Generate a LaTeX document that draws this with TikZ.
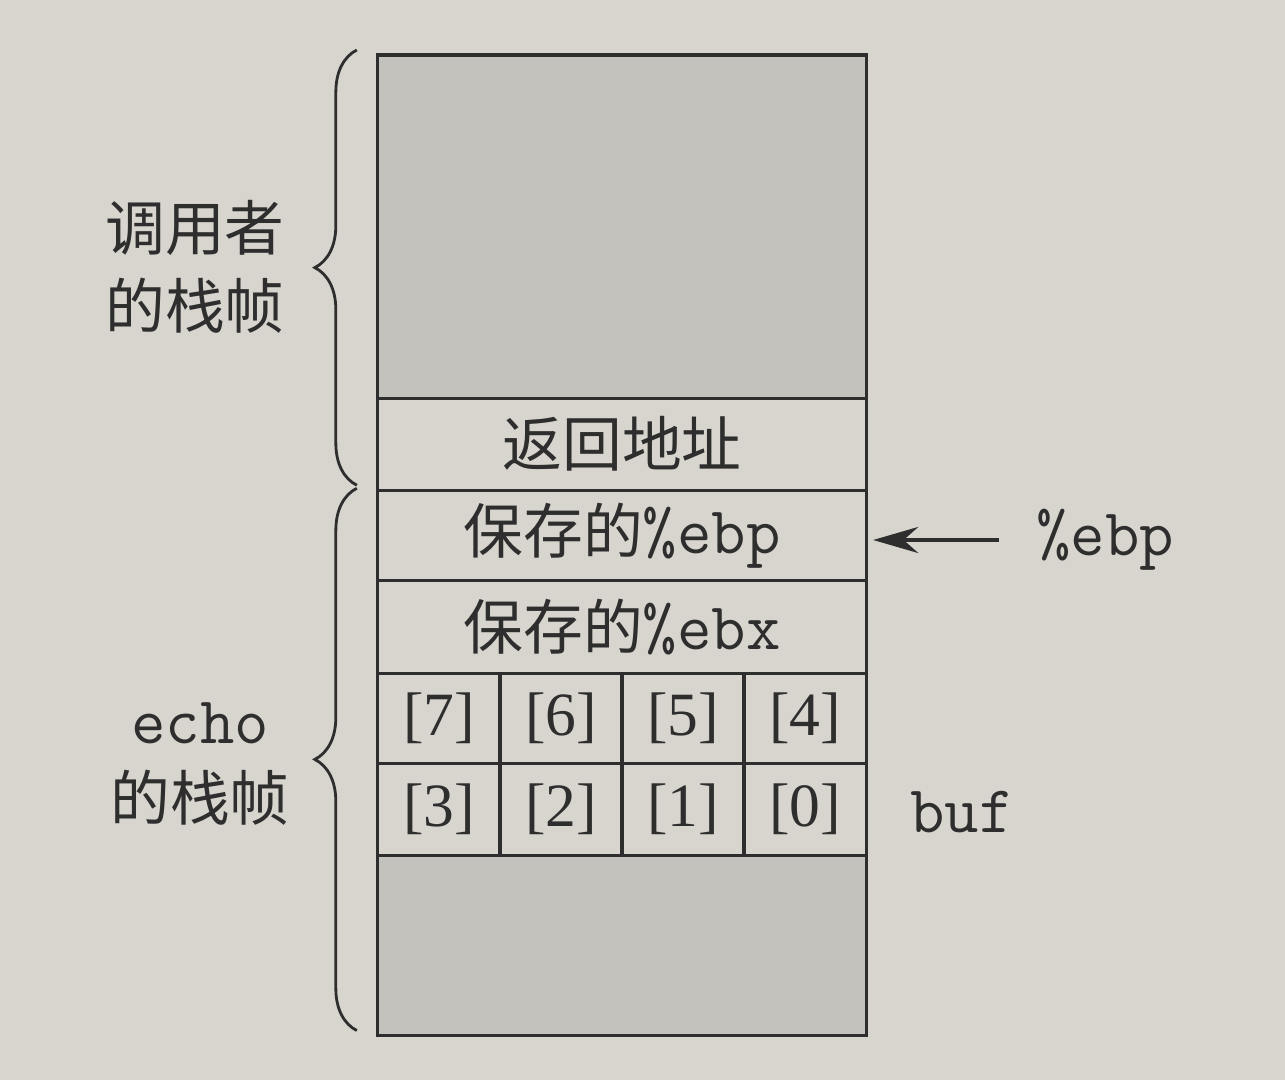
\documentclass[tikz,border=0pt]{standalone}
\usepackage{fontspec}
\setmainfont{Liberation Serif}
\newfontfamily\cjk{Noto Sans CJK SC}
\usetikzlibrary{positioning,decorations.pathreplacing,arrows.meta}
\definecolor{paper}{HTML}{D8D5CE}
\definecolor{shade}{HTML}{C4C2BD}
\definecolor{ink}{HTML}{2E2E2E}
\newcommand{\reg}[1]{{\fontsize{19}{20}\selectfont\ttfamily #1}}

\tikzset{
  slot/.style={draw=ink, line width=0.9pt, minimum width=4.88cm, inner sep=0pt, outer sep=0pt,
    font=\fontsize{17}{20}\selectfont\cjk, text=ink},
  byte/.style={draw=ink, line width=0.9pt, minimum width=1.22cm, minimum height=0.9cm,
    inner sep=0pt, outer sep=0pt, font=\fontsize{17.5}{20}\selectfont, text=ink},
  framebrace/.style={draw=ink, line width=0.8pt, decorate, decoration={brace, amplitude=0.42cm}},
  tag/.style={font=\fontsize{17}{20}\selectfont\cjk, text=ink, align=center},
}

\begin{document}
\begin{tikzpicture}[x=0.01cm, y=-0.01cm]
    \fill[paper] (0, 0) rectangle (1285, 1080);
    \useasboundingbox (0, 0) rectangle (1285, 1080);
    % stack
    \node[slot, fill=shade, anchor=north, minimum height=3.43cm] (caller) at (622, 55) {};
    \node[slot, minimum height=0.92cm, below=0pt of caller] (ret) {返回地址};
    \node[slot, minimum height=0.90cm, below=0pt of ret] (ebp) {保存的\reg{\%ebp}};
    \node[slot, minimum height=0.93cm, below=0pt of ebp] (ebx) {保存的\reg{\%ebx}};
    \node[byte, anchor=north west] (b7) at (ebx.south west) {[7]};
    \node[byte, right=0pt of b7] (b6) {[6]};
    \node[byte, right=0pt of b6] (b5) {[5]};
    \node[byte, right=0pt of b5] (b4) {[4]};
    \node[byte, below=0pt of b7, minimum height=0.92cm] (b3) {[3]};
    \node[byte, right=0pt of b3, minimum height=0.92cm] (b2) {[2]};
    \node[byte, right=0pt of b2, minimum height=0.92cm] (b1) {[1]};
    \node[byte, right=0pt of b1, minimum height=0.92cm] (b0) {[0]};
    \node[slot, fill=shade, anchor=north, minimum height=1.80cm] (rest) at (b3.south -| ebx.south) {};
    % frames
    \draw[framebrace] ([xshift=-0.21cm, yshift=0.05cm]ret.south west) -- ([xshift=-0.21cm, yshift=0.05cm]caller.north west);
    \draw[framebrace] ([xshift=-0.21cm, yshift=0.05cm]rest.south west) -- ([xshift=-0.21cm, yshift=0.02cm]ret.south west);
    \node[tag] (callerlbl) at (195, 267) {调用者\\[2pt]的栈帧};
    \node[tag] (echolbl) at (200, 764) {\reg{echo}\\[2pt]的栈帧};
    % registers
    \node[tag] (ebpreg) at (1105, 540) {\reg{\%ebp}};
    \node[tag] (buf) at (962, 812) {\reg{buf}};
    \draw[ink, line width=1.2pt, -{Stealth[length=0.45cm, width=0.26cm]}] ([xshift=-0.25cm]ebpreg.west) -- ([xshift=0.07cm]ebpreg.west -| ebp.east);
\end{tikzpicture}
\end{document}
